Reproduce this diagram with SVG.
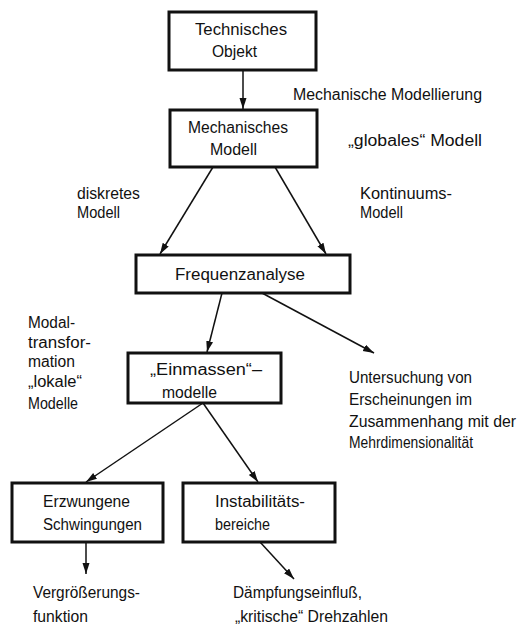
<svg xmlns="http://www.w3.org/2000/svg" width="521" height="634" viewBox="0 0 521 634">
<style>
text{font-family:"Liberation Sans",Arial,sans-serif;font-size:16px;fill:#111;}
.box{fill:#fff;stroke:#111;stroke-width:3;}
.con{stroke:#111;stroke-width:1.5;fill:none;marker-end:url(#ah);}
</style>
<defs>
<marker id="ah" markerUnits="userSpaceOnUse" markerWidth="12" markerHeight="8" refX="11" refY="3.5" orient="auto">
<path d="M0,0 L11,3.5 L0,7 z" fill="#111"/>
</marker>
</defs>
<rect width="521" height="634" fill="#fff"/>
<g id="connectors">
<line class="con" x1="243" y1="70" x2="243" y2="109"/>
<line class="con" x1="213" y1="167" x2="160" y2="254"/>
<line class="con" x1="275" y1="167" x2="326" y2="254"/>
<line class="con" x1="222" y1="293" x2="207" y2="352"/>
<line class="con" x1="262" y1="293" x2="374" y2="353"/>
<line class="con" x1="203" y1="403" x2="86" y2="482"/>
<line class="con" x1="203" y1="403" x2="258" y2="482"/>
<line class="con" x1="86" y1="542" x2="86" y2="574"/>
<line class="con" x1="260" y1="542" x2="294" y2="579"/>
</g>
<g id="technisches-objekt">
<rect class="box" x="169" y="12" width="147" height="58"/>
<text x="195" y="35" textLength="92" lengthAdjust="spacingAndGlyphs">Technisches</text>
<text x="212" y="57" textLength="45" lengthAdjust="spacingAndGlyphs">Objekt</text>
</g>
<g id="mechanisches-modell">
<rect class="box" x="170" y="110" width="147" height="57"/>
<text x="188" y="133" textLength="100" lengthAdjust="spacingAndGlyphs">Mechanisches</text>
<text x="210" y="155" textLength="47" lengthAdjust="spacingAndGlyphs">Modell</text>
</g>
<g id="frequenzanalyse">
<rect class="box" x="136" y="255" width="214" height="38"/>
<text x="175" y="280" textLength="130" lengthAdjust="spacingAndGlyphs">Frequenzanalyse</text>
</g>
<g id="einmassenmodelle">
<rect class="box" x="128" y="353" width="153" height="50"/>
<text x="150" y="375" textLength="112" lengthAdjust="spacingAndGlyphs">„Einmassen“–</text>
<text x="162" y="398" textLength="55" lengthAdjust="spacingAndGlyphs">modelle</text>
</g>
<g id="erzwungene-schwingungen">
<rect class="box" x="12" y="483" width="151" height="59"/>
<text x="43" y="507" textLength="87" lengthAdjust="spacingAndGlyphs">Erzwungene</text>
<text x="43" y="530" textLength="99" lengthAdjust="spacingAndGlyphs">Schwingungen</text>
</g>
<g id="instabilitaetsbereiche">
<rect class="box" x="183" y="483" width="152" height="59"/>
<text x="215" y="507" textLength="90" lengthAdjust="spacingAndGlyphs">Instabilitäts-</text>
<text x="215" y="530" textLength="55" lengthAdjust="spacingAndGlyphs">bereiche</text>
</g>
<g id="labels">
<text x="293" y="100" textLength="189" lengthAdjust="spacingAndGlyphs">Mechanische Modellierung</text>
<text x="348" y="146" textLength="134" lengthAdjust="spacingAndGlyphs">„globales“ Modell</text>
<text x="77" y="199" textLength="63" lengthAdjust="spacingAndGlyphs">diskretes</text>
<text x="77" y="218" textLength="43" lengthAdjust="spacingAndGlyphs">Modell</text>
<text x="360" y="199" textLength="92" lengthAdjust="spacingAndGlyphs">Kontinuums-</text>
<text x="360" y="218" textLength="43" lengthAdjust="spacingAndGlyphs">Modell</text>
<text x="28" y="328" textLength="47" lengthAdjust="spacingAndGlyphs">Modal-</text>
<text x="28" y="348" textLength="63" lengthAdjust="spacingAndGlyphs">transfor-</text>
<text x="28" y="367" textLength="47" lengthAdjust="spacingAndGlyphs">mation</text>
<text x="28" y="387" textLength="54" lengthAdjust="spacingAndGlyphs">„lokale“</text>
<text x="28" y="409" textLength="50" lengthAdjust="spacingAndGlyphs">Modelle</text>
<text x="349" y="383" textLength="123" lengthAdjust="spacingAndGlyphs">Untersuchung von</text>
<text x="349" y="405" textLength="123" lengthAdjust="spacingAndGlyphs">Erscheinungen im</text>
<text x="349" y="427" textLength="167" lengthAdjust="spacingAndGlyphs">Zusammenhang mit der</text>
<text x="349" y="448" textLength="124" lengthAdjust="spacingAndGlyphs">Mehrdimensionalität</text>
<text x="33" y="598" textLength="107" lengthAdjust="spacingAndGlyphs">Vergrößerungs-</text>
<text x="33" y="622" textLength="55" lengthAdjust="spacingAndGlyphs">funktion</text>
<text x="233" y="598" textLength="129" lengthAdjust="spacingAndGlyphs">Dämpfungseinfluß,</text>
<text x="235" y="622" textLength="153" lengthAdjust="spacingAndGlyphs">„kritische“ Drehzahlen</text>
</g>
</svg>
